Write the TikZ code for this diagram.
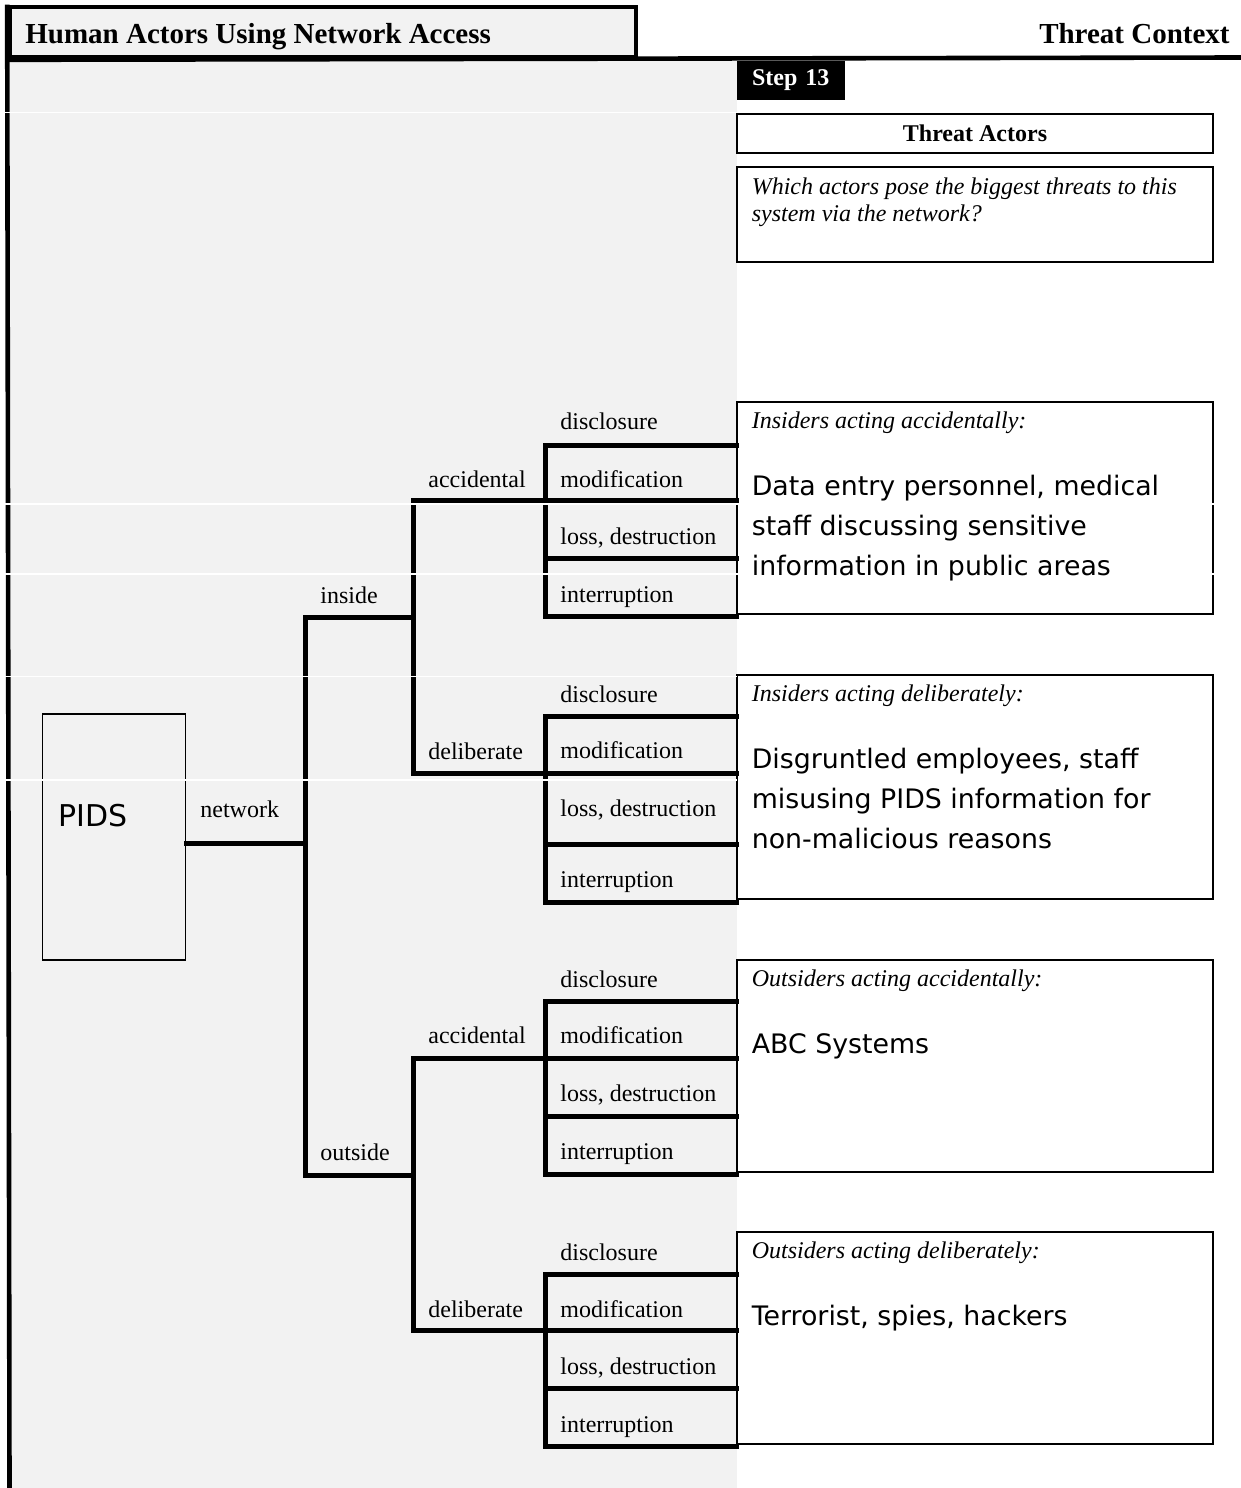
\documentclass[tikz,border=0pt,12pt]{standalone}
\usepackage{fontspec}
\setmainfont{Liberation Serif}
\newfontfamily\handfont{DejaVu Sans}
\usepackage{tikz}
\usetikzlibrary{positioning,calc}
\definecolor{panelgrey}{HTML}{F2F2F2}

\begin{document}
\begin{tikzpicture}[x=0.5pt,y=-0.5pt,
  hdrline/.style={line width=2.3pt},
  branch/.style={line width=2.5pt,line cap=rect},
  seam/.style={draw=white,line width=0.6pt},
  lab/.style={anchor=base west,inner sep=0pt},
  hdrtxt/.style={anchor=base west,inner sep=0pt,font=\fontsize{14.5}{17}\selectfont\bfseries},
  box/.style={draw,line width=0.6pt,fill=white,minimum width=238pt,inner sep=0pt},
  head/.style={anchor=base west,inner sep=0pt,font=\itshape},
  hand/.style={anchor=north west,inner sep=0pt,align=left,font=\handfont\fontsize{13.4}{20}\selectfont},
  stepbox/.style={fill=black,text=white,font=\bfseries,text width=39pt,align=left,inner xsep=7.5pt,minimum height=19.5pt}]
\useasboundingbox (0,0) rectangle (1241,1488);
\fill[panelgrey] (9.5,57.5) rectangle (737,1488);

% page header
\node[draw,line width=2.3pt,fill=panelgrey,minimum width=313.25pt,minimum height=25.25pt,inner sep=0pt] (hdrbox) at (322.75,32.25) {};
\coordinate (rimend) at (1241,57.5);
\coordinate (foot) at (9.5,1488);
\draw[hdrline] (hdrbox.south west) -- (rimend);
\draw[hdrline] (hdrbox.north west) -- (foot);

% right column
\node[stepbox] (step) at (791,80.5) {Step 13};
\node[box,minimum height=19.5pt,font=\bfseries] (actors) at (975,133.5) {Threat Actors};
\node[box,minimum height=47.5pt] (question) at (975,214.5) {};
\node[box,minimum height=106pt] (ia) at (975,508) {};
\node[box,minimum height=112pt] (id) at (975,787) {};
\node[box,minimum height=106pt] (oa) at (975,1066) {};
\node[box,minimum height=106pt] (od) at (975,1338) {};

% tree
\node[draw,line width=0.6pt,minimum width=71.7pt,minimum height=123pt,inner sep=0pt] (pids) at (114,837) {};
\coordinate (root) at (305,843.5);
\coordinate (in) at (305,617);
\coordinate (out) at (305,1175);
\coordinate (ia0) at (413,500.5);
\coordinate (id0) at (413,773);
\coordinate (oa0) at (413,1058);
\coordinate (od0) at (413,1330.5);
\draw[branch] (pids.east |- root) -- (root) (in) -- (out) (in) -- (in -| ia0) (out) -- (out -| oa0)
  (ia0) -- (id0) (oa0) -- (od0);

\coordinate (ia1) at (545,445);
\coordinate (ia2) at (545,500.5);
\coordinate (ia3) at (545,558.5);
\coordinate (ia4) at (545,616.5);
\draw[branch] (ia0) -- (ia2) (ia1) -- (ia4) (ia1) -- (ia1 -| ia.west) (ia2) -- (ia2 -| ia.west)
  (ia3) -- (ia3 -| ia.west) (ia4) -- (ia4 -| ia.west);
\coordinate (id1) at (545,716);
\coordinate (id2) at (545,773);
\coordinate (id3) at (545,844);
\coordinate (id4) at (545,902);
\draw[branch] (id0) -- (id2) (id1) -- (id4) (id1) -- (id1 -| id.west) (id2) -- (id2 -| id.west)
  (id3) -- (id3 -| id.west) (id4) -- (id4 -| id.west);
\coordinate (oa1) at (545,1001);
\coordinate (oa2) at (545,1058);
\coordinate (oa3) at (545,1116);
\coordinate (oa4) at (545,1174);
\draw[branch] (oa0) -- (oa2) (oa1) -- (oa4) (oa1) -- (oa1 -| oa.west) (oa2) -- (oa2 -| oa.west)
  (oa3) -- (oa3 -| oa.west) (oa4) -- (oa4 -| oa.west);
\coordinate (od1) at (545,1274.5);
\coordinate (od2) at (545,1330.5);
\coordinate (od3) at (545,1388.5);
\coordinate (od4) at (545,1446.5);
\draw[branch] (od0) -- (od2) (od1) -- (od4) (od1) -- (od1 -| od.west) (od2) -- (od2 -| od.west)
  (od3) -- (od3 -| od.west) (od4) -- (od4 -| od.west);

\draw[seam] (0,112.5) -- (737,112.5) (0,504) -- (1241,504) (0,574) -- (1241,574)
  (0,676.5) -- (737,676.5) (0,780) -- (737,780);

% texts
\node[hdrtxt] (title) at (25,43.5) {Human Actors Using Network Access};
\node[hdrtxt,anchor=base east] (context) at (1230,43.5) {Threat Context};
\node[head,anchor=north west,align=left,font=\itshape\fontsize{12}{13.6}\selectfont] (qtext)
  at ([xshift=7.5pt,yshift=-5.3pt]question.north west) {Which actors pose the biggest threats to this\\system via the network?};

\node[hand,anchor=base west,font=\handfont\fontsize{15}{18}\selectfont] (pidstxt) at (58,826.7) {PIDS};
\node[lab] (net) at (200,817) {network};
\node[lab] (inl) at (320,603) {inside};
\node[lab] (outl) at (320,1160) {outside};
\node[lab] (acc1) at (428,487) {accidental};
\node[lab] (del1) at (428,759) {deliberate};
\node[lab] (acc2) at (428,1043) {accidental};
\node[lab] (del2) at (428,1317) {deliberate};

\node[lab] (ia-d) at (560,429) {disclosure};
\node[lab] (ia-m) at (560,487) {modification};
\node[lab] (ia-l) at (560,544.5) {loss, destruction};
\node[lab] (ia-i) at (560,602.5) {interruption};
\node[lab] (id-d) at (560,702) {disclosure};
\node[lab] (id-m) at (560,758) {modification};
\node[lab] (id-l) at (560,816) {loss, destruction};
\node[lab] (id-i) at (560,887) {interruption};
\node[lab] (oa-d) at (560,987) {disclosure};
\node[lab] (oa-m) at (560,1043) {modification};
\node[lab] (oa-l) at (560,1101) {loss, destruction};
\node[lab] (oa-i) at (560,1159) {interruption};
\node[lab] (od-d) at (560,1260) {disclosure};
\node[lab] (od-m) at (560,1317) {modification};
\node[lab] (od-l) at (560,1374) {loss, destruction};
\node[lab] (od-i) at (560,1432) {interruption};

\node[head] (ia-h) at ([xshift=7.5pt,yshift=-13.5pt]ia.north west) {Insiders acting accidentally:};
\node[hand] (ia-t) at ([xshift=7.5pt,yshift=-36.8pt]ia.north west) {Data entry personnel, medical\\staff discussing sensitive\\information in public areas};
\node[head] (id-h) at ([xshift=7.5pt,yshift=-13.5pt]id.north west) {Insiders acting deliberately:};
\node[hand] (id-t) at ([xshift=7.5pt,yshift=-36.8pt]id.north west) {Disgruntled employees, staff\\misusing PIDS information for\\non-malicious reasons};
\node[head] (oa-h) at ([xshift=7.5pt,yshift=-13.5pt]oa.north west) {Outsiders acting accidentally:};
\node[hand] (oa-t) at ([xshift=7.5pt,yshift=-36.8pt]oa.north west) {ABC Systems};
\node[head] (od-h) at ([xshift=7.5pt,yshift=-13.5pt]od.north west) {Outsiders acting deliberately:};
\node[hand] (od-t) at ([xshift=7.5pt,yshift=-36.8pt]od.north west) {Terrorist, spies, hackers};
\end{tikzpicture}
\end{document}
